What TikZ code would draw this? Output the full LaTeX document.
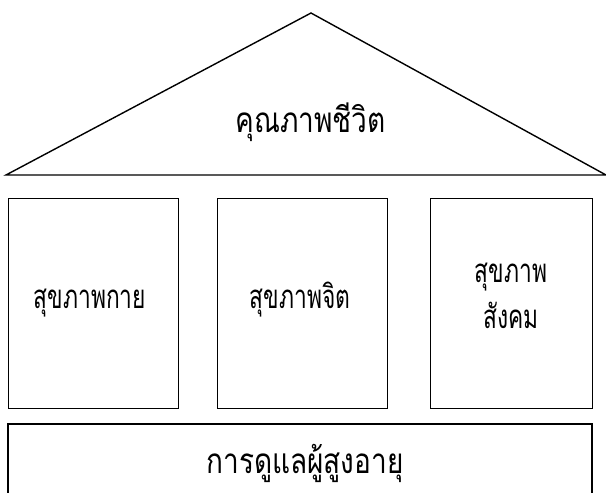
\documentclass[tikz,border=0pt]{standalone}
\usepackage{fontspec}
\newfontfamily\thaifont[Script=Thai,FakeStretch=0.8]{Loma}
\newfontfamily\thainarrow[Script=Thai,FakeStretch=0.69]{Loma}
\begin{document}
\begin{tikzpicture}[x=1pt,y=-1pt,
  pillar/.style={draw,line width=1.4pt,minimum width=170pt,minimum height=210pt,inner sep=0pt,anchor=north west},
  lbl/.style={font=\thainarrow\fontsize{33}{34}\selectfont,inner sep=0pt,anchor=base},
  biglbl/.style={lbl,font=\thaifont\fontsize{35}{36}\selectfont}]
\useasboundingbox (0,0) rectangle (606,493);
\coordinate (apex) at (311,13);
\coordinate (bl) at (6,175);
\coordinate (br) at (606,175);
\draw[line width=1.4pt,line join=miter] (bl) -- (apex) -- (br) -- cycle;
\node[biglbl] (roof) at (310.5,132) {คุณภาพชีวิต};
\node[pillar] (p1) at (8,198) {};
\node[pillar] (p2) at (217,198) {};
\node[pillar,minimum width=162pt] (p3) at (430,198) {};
\node[lbl] (t1) at (90,308) {สุขภาพกาย};
\node[lbl] (t2) at (300,308) {สุขภาพจิต};
\node[lbl] (t3a) at (511,282) {สุขภาพ};
\node[lbl] (t3b) at (511,328) {สังคม};
\draw[line width=1.4pt] (8,520) -- (8,424) -- (592,424) -- (592,520);
\node[biglbl] (base) at (305,473) {การดูแลผู้สูงอายุ};
\end{tikzpicture}
\end{document}
